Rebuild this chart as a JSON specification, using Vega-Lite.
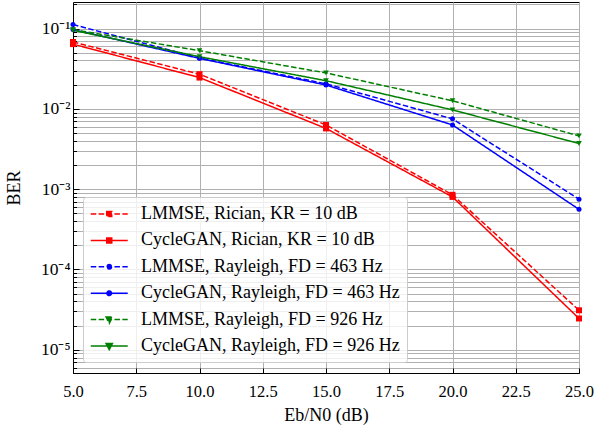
{
  "$schema": "https://vega.github.io/schema/vega-lite/v6.json",
  "width": 506,
  "height": 371,
  "autosize": {"type": "none"},
  "padding": {"left": 73, "top": 2, "right": 16, "bottom": 52},
  "background": "white",
  "config": {
    "font": "Liberation Serif",
    "view": {"stroke": "black", "strokeWidth": 1},
    "axis": {
      "labelFont": "Liberation Serif",
      "labelFontSize": 16.5,
      "labelColor": "black",
      "titleFont": "Liberation Serif",
      "titleFontSize": 18,
      "titleFontWeight": "normal",
      "titleColor": "black",
      "domainColor": "black",
      "domainWidth": 1,
      "tickColor": "black",
      "tickWidth": 1,
      "gridColor": "#b0b0b0",
      "gridWidth": 1
    }
  },
  "data": {
    "values": [
      {"series": "LMMSE, Rician, KR = 10 dB", "snr": 5, "ber": 0.068},
      {"series": "LMMSE, Rician, KR = 10 dB", "snr": 10, "ber": 0.027},
      {"series": "LMMSE, Rician, KR = 10 dB", "snr": 15, "ber": 0.0063},
      {"series": "LMMSE, Rician, KR = 10 dB", "snr": 20, "ber": 0.00085},
      {"series": "LMMSE, Rician, KR = 10 dB", "snr": 25, "ber": 0.000031},
      {"series": "CycleGAN, Rician, KR = 10 dB", "snr": 5, "ber": 0.064},
      {"series": "CycleGAN, Rician, KR = 10 dB", "snr": 10, "ber": 0.0245},
      {"series": "CycleGAN, Rician, KR = 10 dB", "snr": 15, "ber": 0.0057},
      {"series": "CycleGAN, Rician, KR = 10 dB", "snr": 20, "ber": 0.0008},
      {"series": "CycleGAN, Rician, KR = 10 dB", "snr": 25, "ber": 0.0000245},
      {"series": "LMMSE, Rayleigh, FD = 463 Hz", "snr": 5, "ber": 0.112},
      {"series": "LMMSE, Rayleigh, FD = 463 Hz", "snr": 10, "ber": 0.043},
      {"series": "LMMSE, Rayleigh, FD = 463 Hz", "snr": 15, "ber": 0.0205},
      {"series": "LMMSE, Rayleigh, FD = 463 Hz", "snr": 20, "ber": 0.0075},
      {"series": "LMMSE, Rayleigh, FD = 463 Hz", "snr": 25, "ber": 0.00075},
      {"series": "CycleGAN, Rayleigh, FD = 463 Hz", "snr": 5, "ber": 0.097},
      {"series": "CycleGAN, Rayleigh, FD = 463 Hz", "snr": 10, "ber": 0.0425},
      {"series": "CycleGAN, Rayleigh, FD = 463 Hz", "snr": 15, "ber": 0.0198},
      {"series": "CycleGAN, Rayleigh, FD = 463 Hz", "snr": 20, "ber": 0.0063},
      {"series": "CycleGAN, Rayleigh, FD = 463 Hz", "snr": 25, "ber": 0.00056},
      {"series": "LMMSE, Rayleigh, FD = 926 Hz", "snr": 5, "ber": 0.097},
      {"series": "LMMSE, Rayleigh, FD = 926 Hz", "snr": 10, "ber": 0.053},
      {"series": "LMMSE, Rayleigh, FD = 926 Hz", "snr": 15, "ber": 0.028},
      {"series": "LMMSE, Rayleigh, FD = 926 Hz", "snr": 20, "ber": 0.0126},
      {"series": "LMMSE, Rayleigh, FD = 926 Hz", "snr": 25, "ber": 0.0046},
      {"series": "CycleGAN, Rayleigh, FD = 926 Hz", "snr": 5, "ber": 0.095},
      {"series": "CycleGAN, Rayleigh, FD = 926 Hz", "snr": 10, "ber": 0.0446},
      {"series": "CycleGAN, Rayleigh, FD = 926 Hz", "snr": 15, "ber": 0.0224},
      {"series": "CycleGAN, Rayleigh, FD = 926 Hz", "snr": 20, "ber": 0.0097},
      {"series": "CycleGAN, Rayleigh, FD = 926 Hz", "snr": 25, "ber": 0.0037}
    ]
  },
  "layer": [
    {
      "mark": {"type": "line", "strokeWidth": 1.5, "clip": true},
      "encoding": {
        "x": {
          "field": "snr",
          "type": "quantitative",
          "scale": {"domain": [5, 25], "nice": false, "zero": false},
          "axis": {
            "title": "Eb/N0 (dB)",
            "values": [5, 7.5, 10, 12.5, 15, 17.5, 20, 22.5, 25],
            "format": ".1f",
            "tickSize": -5,
            "labelPadding": 15,
            "labelBaseline": "top",
            "titlePadding": 7,
            "labelFlush": false
          }
        },
        "y": {
          "field": "ber",
          "type": "quantitative",
          "scale": {"type": "log", "domain": [0.00000513, 0.214], "nice": false},
          "axis": {
            "title": "BER",
            "tickCount": 10,
            "labelOverlap": false,
            "labelPadding": 9,
            "labelFontSize": 17.5,
            "titlePadding": 17,
            "tickSize": {"condition": {"test": "abs(log(datum.value)/LN10 - round(log(datum.value)/LN10)) < 0.0001", "value": -6}, "value": -3.5},
            "labelExpr": "abs(datum.value/0.1-1)<1e-6 ? '10⁻¹' : abs(datum.value/0.01-1)<1e-6 ? '10⁻²' : abs(datum.value/0.001-1)<1e-6 ? '10⁻³' : abs(datum.value/0.0001-1)<1e-6 ? '10⁻⁴' : abs(datum.value/0.00001-1)<1e-6 ? '10⁻⁵' : ''"
          }
        },
        "color": {
          "field": "series",
          "type": "nominal",
          "scale": {
            "domain": ["LMMSE, Rician, KR = 10 dB", "CycleGAN, Rician, KR = 10 dB", "LMMSE, Rayleigh, FD = 463 Hz", "CycleGAN, Rayleigh, FD = 463 Hz", "LMMSE, Rayleigh, FD = 926 Hz", "CycleGAN, Rayleigh, FD = 926 Hz"],
            "range": ["#ff0000", "#ff0000", "#0000ff", "#0000ff", "#008000", "#008000"]
          },
          "legend": {
            "title": null,
            "orient": "none",
            "legendX": 10,
            "legendY": 195,
            "labelFont": "Liberation Serif",
            "labelFontSize": 18,
            "labelColor": "black",
            "labelLimit": 400,
            "labelOffset": 31,
            "symbolSize": 342,
            "symbolStrokeWidth": 1.5,
            "rowPadding": 7.4,
            "padding": 7,
            "fillColor": "rgba(255,255,255,0.8)",
            "strokeColor": "#cccccc",
            "cornerRadius": 3,
            "encode": {
              "symbols": {
                "update": {
                  "shape": {"signal": "indexof(datum.value,'Rician')>=0 ? 'M-1,0L3,0M0.73,-0.27L1.27,-0.27L1.27,0.27L0.73,0.27Z' : indexof(datum.value,'463')>=0 ? 'M-1,0L3,0M1.25,0A0.25,0.25,0,1,1,0.75,0A0.25,0.25,0,1,1,1.25,0Z' : 'M-1,0L3,0M0.66,-0.27L1.34,-0.27L1,0.4Z'"},
                  "fill": {"scale": "color", "field": "value"},
                  "fillOpacity": {"value": 1},
                  "stroke": {"scale": "color", "field": "value"},
                  "strokeDash": {"signal": "indexof(datum.value,'LMMSE')>=0 ? [5.5,2.4] : [1,0]"}
                }
              }
            }
          }
        },
        "strokeDash": {
          "field": "series",
          "type": "nominal",
          "scale": {
            "domain": ["LMMSE, Rician, KR = 10 dB", "CycleGAN, Rician, KR = 10 dB", "LMMSE, Rayleigh, FD = 463 Hz", "CycleGAN, Rayleigh, FD = 463 Hz", "LMMSE, Rayleigh, FD = 926 Hz", "CycleGAN, Rayleigh, FD = 926 Hz"],
            "range": [[5.5, 2.4], [1, 0], [5.5, 2.4], [1, 0], [5.5, 2.4], [1, 0]]
          },
          "legend": null
        }
      }
    },
    {
      "transform": [{"filter": "indexof(datum.series,'Rician')>=0"}],
      "mark": {"type": "point", "shape": "square", "filled": true, "opacity": 1, "size": 36, "color": "#ff0000"},
      "encoding": {
        "x": {"field": "snr", "type": "quantitative"},
        "y": {"field": "ber", "type": "quantitative"}
      }
    },
    {
      "transform": [{"filter": "indexof(datum.series,'463')>=0"}],
      "mark": {"type": "point", "shape": "circle", "filled": true, "opacity": 1, "size": 25, "color": "#0000ff"},
      "encoding": {
        "x": {"field": "snr", "type": "quantitative"},
        "y": {"field": "ber", "type": "quantitative"}
      }
    },
    {
      "transform": [{"filter": "indexof(datum.series,'926')>=0"}],
      "mark": {"type": "point", "shape": "triangle-down", "filled": true, "opacity": 1, "size": 32, "color": "#008000"},
      "encoding": {
        "x": {"field": "snr", "type": "quantitative"},
        "y": {"field": "ber", "type": "quantitative"}
      }
    }
  ]
}
